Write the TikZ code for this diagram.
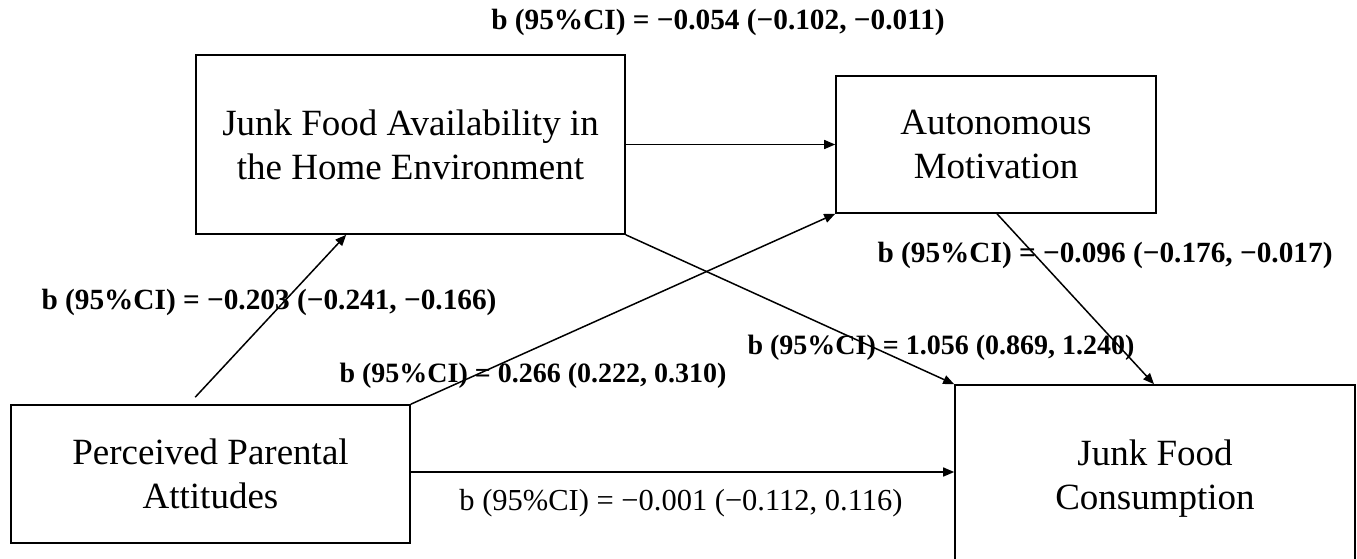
\documentclass[tikz,border=0pt]{standalone}
\usepackage{fontspec}
\setmainfont{Liberation Serif}
\usetikzlibrary{arrows.meta,calc}
\begin{document}
\begin{tikzpicture}[x=1pt,y=-1pt,
  box/.style={draw, line width=1.6pt, rectangle, inner sep=0pt, align=center, font=\fontsize{37}{44}\selectfont},
  arr/.style={line width=1.5pt, -{Triangle[length=11pt,width=9pt]}},
  lab/.style={font=\fontsize{29.3}{34}\selectfont\bfseries, inner sep=0pt},
  labs/.style={font=\fontsize{28}{34}\selectfont\bfseries, inner sep=0pt},
  labr/.style={font=\fontsize{30.5}{34}\selectfont, inner sep=0pt}]
\fill[white] (0,0) rectangle (1357,558);
\useasboundingbox (0,0) rectangle (1357,558);
\clip (0,0) rectangle (1357,558);
\node[box, minimum width=399pt, minimum height=138pt] (ppa) at (210.5,474) {Perceived Parental\\Attitudes};
\node[box, minimum width=429pt, minimum height=179pt] (jfa) at (410.5,144.5) {Junk Food Availability in\\the Home Environment};
\node[box, minimum width=320pt, minimum height=137pt] (am) at (996,144.5) {Autonomous\\Motivation};
\node[box, minimum width=400pt, minimum height=188pt] (jfc) at (1155,479) {Junk Food\\Consumption};
\draw[arr] ([xshift=185pt,yshift=7pt]ppa.north west) -- ([xshift=151pt]jfa.south west);
\draw[arr] (ppa.north east) -- (am.south west);
\draw[arr] (jfa.east) -- (am.west);
\draw[arr] (jfa.south east) -- (jfc.north west);
\draw[arr] ([xshift=1pt]am.south) -- ([xshift=-1pt]jfc.north);
\draw[arr] ([yshift=2pt]ppa.east) -- ([yshift=2pt]ppa.east -| jfc.west);
\node[lab] (l1) at (718,22) {b (95\%CI) = −0.054 (−0.102, −0.011)};
\node[lab] (l2) at (269,302) {b (95\%CI) = −0.203 (−0.241, −0.166)};
\node[labs] (l3) at (533,376) {b (95\%CI) = 0.266 (0.222, 0.310)};
\node[lab] (l4) at (1105,255) {b (95\%CI) = −0.096 (−0.176, −0.017)};
\node[labs] (l5) at (941,348) {b (95\%CI) = 1.056 (0.869, 1.240)};
\node[labr] (l6) at (681,503) {b (95\%CI) = −0.001 (−0.112, 0.116)};
\end{tikzpicture}
\end{document}
